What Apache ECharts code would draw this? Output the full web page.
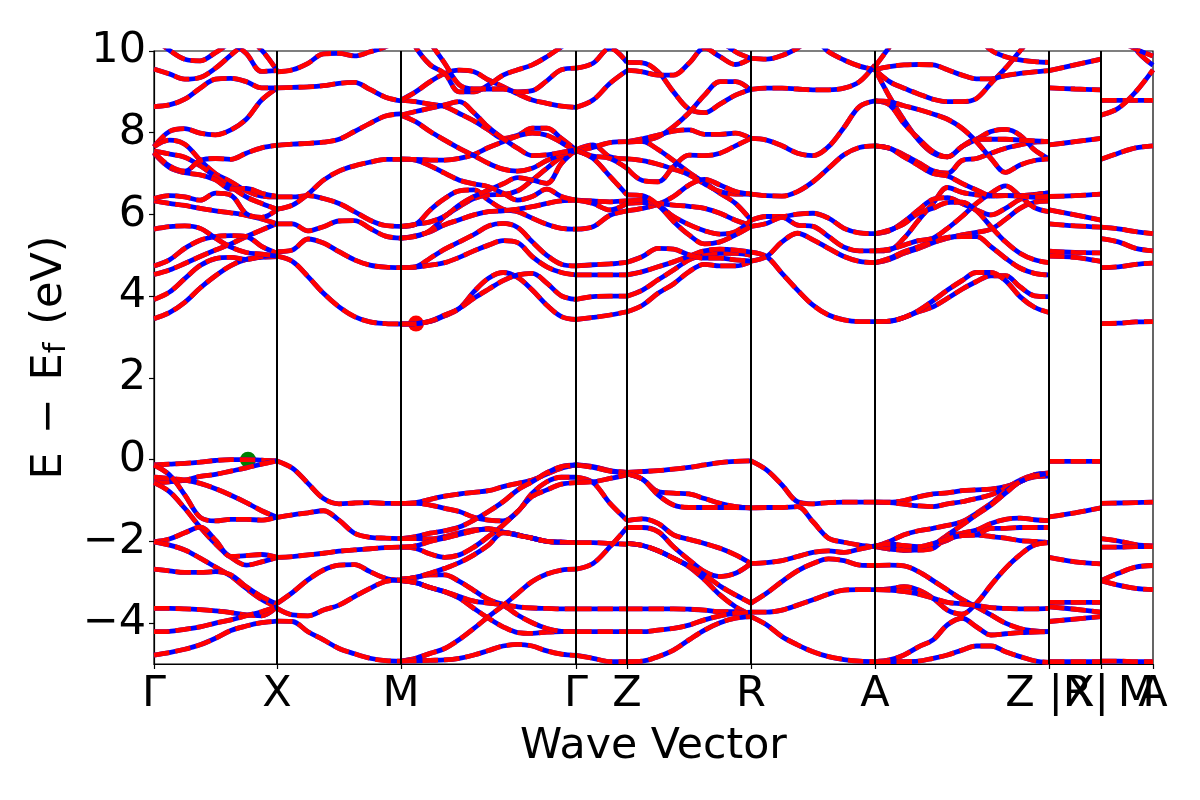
<!DOCTYPE html>
<html><head><meta charset="utf-8">
<script src="https://cdn.jsdelivr.net/npm/echarts@6/dist/echarts.min.js"></script>
<style>html,body{margin:0;padding:0;background:#fff}#c{width:1200px;height:800px}</style>
</head><body><div id="c"></div>
<script>
const tickPositions=[0,1.23,2.47,4.22,4.73,5.97,7.21,8.95,9.47,9.99];
const tickLabels=["Γ","X","M","Γ","Z","R","A","Z\u00a0|R","\u00a0\u200aX|\u2009M","A"];
const energyTicks=[-4,-2,0,2,4,6,8,10];
const vbmPoint=[0.94,0.0];
const cbmPoint=[2.62,3.33];

const bandsGammaX=[
[3.45,3.6,3.85,4.2,4.5,4.75,4.9,4.95,4.97],
[3.92,4.1,4.43,4.75,4.92,4.95,4.9,4.97,5.0],
[4.53,4.64,4.8,4.97,5.13,5.28,5.46,5.62,5.78],
[4.74,4.89,5.17,5.37,5.46,5.48,5.46,5.22,5.05],
[5.64,5.7,5.72,5.66,5.42,5.2,5.07,5.03,4.98],
[6.33,6.27,6.22,6.15,6.09,6.04,5.98,5.89,5.77],
[6.39,6.46,6.43,6.35,6.52,6.47,6.02,5.93,6.12],
[7.66,8.03,8.1,7.99,7.95,8.07,8.33,8.8,9.09],
[7.66,7.82,7.72,7.33,7.0,6.8,6.58,6.45,6.43],
[7.55,7.48,7.4,7.19,6.93,6.68,6.43,6.27,6.13],
[7.5,7.15,7.02,6.97,6.85,6.62,6.64,6.52,6.44],
[7.52,7.19,7.06,7.32,7.37,7.35,7.5,7.63,7.69],
[8.64,8.68,8.82,9.09,9.31,9.33,9.25,9.1,9.1],
[9.56,9.44,9.31,9.35,9.58,9.9,10.2,10.4,10.5],
[10.3,10.02,9.8,9.76,9.96,10.2,10.3,10.02,9.52],
[11,11,11,11,10.3,10.2,9.94,9.5,9.52],
[-0.13,-0.11,-0.09,-0.06,-0.02,0,0,-0.01,-0.03],
[-0.56,-0.54,-0.5,-0.41,-0.36,-0.28,-0.2,-0.11,-0.03],
[-0.43,-0.46,-0.5,-0.58,-0.71,-0.87,-1.05,-1.25,-1.41],
[-0.13,-0.37,-0.86,-1.41,-1.5,-1.46,-1.46,-1.48,-1.41],
[-0.56,-0.78,-1.19,-1.65,-2.06,-2.39,-2.58,-2.5,-2.39],
[-2.01,-1.94,-1.79,-1.65,-1.97,-2.37,-2.35,-2.32,-2.39],
[-2.01,-2.09,-2.21,-2.41,-2.63,-2.85,-3.15,-3.42,-3.6],
[-2.68,-2.72,-2.76,-2.76,-2.74,-2.82,-3.11,-3.35,-3.53],
[-3.64,-3.64,-3.65,-3.67,-3.7,-3.74,-3.8,-3.82,-3.6],
[-4.21,-4.2,-4.15,-4.09,-4.0,-3.92,-3.82,-3.72,-3.6],
[-4.78,-4.72,-4.64,-4.53,-4.37,-4.18,-4.07,-3.99,-3.95]
];
const bandsXM=[
[4.98,4.85,4.48,4.07,3.74,3.5,3.37,3.33,3.32],
[5.09,5.13,5.4,5.3,5.09,4.89,4.76,4.71,4.7],
[5.77,5.77,5.6,5.7,5.84,5.85,5.66,5.47,5.42],
[6.43,6.43,6.46,6.39,6.27,6.07,5.86,5.73,5.71],
[6.13,6.23,6.5,6.84,7.06,7.19,7.28,7.35,7.35],
[7.69,7.72,7.74,7.77,7.84,8.03,8.23,8.41,8.46],
[9.1,9.11,9.12,9.15,9.21,9.23,9.06,8.87,8.78],
[9.49,9.54,9.7,9.93,9.94,9.88,9.98,10.1,10.3],
[-0.03,-0.21,-0.58,-0.95,-1.08,-1.06,-1.05,-1.07,-1.07],
[-1.41,-1.35,-1.3,-1.25,-1.48,-1.8,-1.9,-1.92,-1.93],
[-2.39,-2.37,-2.33,-2.29,-2.24,-2.21,-2.18,-2.15,-2.14],
[-3.52,-3.25,-2.94,-2.7,-2.58,-2.57,-2.74,-2.9,-2.96],
[-3.64,-3.8,-3.82,-3.68,-3.56,-3.35,-3.15,-2.98,-2.94],
[-3.95,-3.96,-4.21,-4.41,-4.62,-4.75,-4.86,-4.92,-4.93]
];
const bandsMGamma=[
[3.32,3.33,3.38,3.52,3.7,4.11,4.44,4.58,4.46,4.15,3.78,3.5,3.43],
[3.32,3.33,3.39,3.54,3.7,3.95,4.17,4.38,4.52,4.56,4.32,4.01,3.92],
[4.7,4.72,4.93,5.15,5.33,5.51,5.72,5.78,5.68,5.33,5.0,4.78,4.74],
[4.7,4.71,4.76,4.82,4.95,5.11,5.25,5.36,5.31,4.97,4.72,4.58,4.52],
[5.71,5.76,6.11,6.39,6.58,6.6,6.35,6.13,6.07,5.91,5.76,5.66,5.64],
[5.42,5.48,5.58,5.75,5.87,5.99,6.07,6.09,6.13,6.19,6.27,6.33,6.35],
[5.42,5.46,5.61,5.95,6.19,6.39,6.48,6.49,6.58,6.84,7.13,7.4,7.54],
[5.71,5.76,5.82,5.96,6.23,6.44,6.6,6.75,6.9,6.84,6.76,7.25,7.58],
[7.36,7.33,7.19,7.01,6.84,6.75,6.68,6.52,6.35,6.44,6.62,6.44,6.35],
[8.8,8.76,8.7,8.64,8.47,8.29,8.07,7.86,7.94,8.11,8.11,7.86,7.58],
[7.35,7.35,7.33,7.33,7.37,7.47,7.64,7.78,7.92,7.99,7.94,7.76,7.54],
[8.43,8.27,8.03,7.82,7.62,7.44,7.25,7.11,7.06,7.13,7.32,7.46,7.56],
[8.43,8.52,8.6,8.68,8.76,8.49,8.13,7.86,7.62,7.44,7.46,7.52,7.58],
[8.8,9.0,9.25,9.45,9.53,9.49,9.29,9.13,8.95,8.8,8.72,8.65,8.62],
[10.8,10.1,9.66,9.45,9.0,9.0,9.17,9.41,9.54,9.66,9.86,10.1,10.35],
[11,10.7,10.2,9.7,9.17,9.07,9.07,9.07,9.0,9.03,9.27,9.54,9.58],
[-1.07,-1.05,-0.97,-0.89,-0.84,-0.8,-0.76,-0.66,-0.58,-0.5,-0.35,-0.21,-0.13],
[-1.07,-1.07,-1.11,-1.19,-1.27,-1.41,-1.48,-1.5,-1.27,-0.82,-0.54,-0.43,-0.43],
[-1.93,-1.88,-1.8,-1.74,-1.65,-1.48,-1.27,-1.03,-0.74,-0.54,-0.32,-0.17,-0.13],
[-1.93,-1.93,-1.94,-1.88,-1.79,-1.72,-1.7,-1.77,-1.84,-1.92,-2.0,-2.02,-2.03],
[-2.14,-2.17,-2.31,-2.39,-2.33,-2.14,-1.88,-1.6,-1.27,-0.9,-0.74,-0.6,-0.56],
[-2.14,-2.11,-2.0,-1.92,-1.83,-1.74,-1.69,-1.77,-1.84,-1.92,-2.0,-2.02,-2.03],
[-2.94,-2.88,-2.82,-2.82,-2.98,-3.2,-3.42,-3.54,-3.6,-3.63,-3.64,-3.65,-3.65],
[-2.92,-2.88,-2.78,-2.66,-2.52,-2.33,-2.09,-1.79,-1.85,-1.92,-2.0,-2.02,-2.03],
[-2.96,-3.01,-3.13,-3.23,-3.39,-3.64,-3.88,-4.09,-4.23,-4.25,-4.22,-4.21,-4.21],
[-2.96,-3.01,-3.13,-3.23,-3.35,-3.46,-3.51,-3.57,-3.8,-3.99,-4.13,-4.2,-4.21],
[-4.93,-4.86,-4.74,-4.62,-4.4,-4.13,-3.84,-3.57,-3.27,-2.98,-2.8,-2.7,-2.68],
[-4.93,-4.92,-4.91,-4.9,-4.86,-4.78,-4.67,-4.56,-4.52,-4.56,-4.68,-4.76,-4.79]
];
const bandsGammaZ=[
[3.43,3.48,3.54,3.62],
[3.92,3.99,4.0,4.0],
[4.52,4.52,4.52,4.52],
[4.74,4.77,4.79,4.83],
[5.64,5.7,5.98,6.09],
[6.35,6.33,6.31,6.33],
[6.35,6.27,6.11,6.27],
[7.58,7.7,7.41,7.36],
[7.54,7.64,7.76,7.78],
[7.56,7.43,7.37,7.13],
[7.58,7.37,6.93,6.48],
[8.62,8.8,9.21,9.52],
[9.58,9.7,10.07,9.72],
[-0.13,-0.17,-0.27,-0.31],
[-0.13,-0.19,-0.28,-0.33],
[-0.43,-0.56,-1.07,-1.48],
[-0.56,-0.54,-0.46,-0.37],
[-2.03,-2.03,-2.05,-2.07],
[-2.68,-2.54,-2.13,-1.66],
[-3.65,-3.65,-3.65,-3.65],
[-4.21,-4.21,-4.21,-4.21],
[-4.79,-4.86,-4.94,-4.94]
];
const bandsZR=[
[3.62,3.78,4.07,4.3,4.6,4.78,4.74,4.74,4.84],
[4.0,4.15,4.4,4.64,4.89,5.01,5.05,5.05,5.0],
[4.52,4.6,4.72,4.84,4.98,5.11,5.15,5.13,5.08],
[4.83,4.97,5.17,5.15,5.01,4.93,4.93,4.89,4.86],
[9.72,9.71,9.49,9.0,8.58,8.49,8.7,8.92,9.06],
[9.53,9.49,9.41,9.41,9.7,10.07,9.86,9.67,9.82],
[11,11,11,11,11,11,10.3,9.98,9.82],
[7.77,7.8,7.9,8.15,8.49,8.92,9.25,9.25,9.04],
[7.78,7.85,7.94,8.04,8.07,7.96,7.96,7.99,7.86],
[7.78,7.78,7.59,7.32,7.03,6.78,6.52,6.27,5.86],
[7.36,7.32,7.23,7.11,6.97,6.75,6.56,6.5,6.5],
[7.13,6.83,6.8,7.17,7.45,7.44,7.5,7.68,7.86],
[6.09,6.15,6.25,6.44,6.72,6.86,6.72,6.56,6.5],
[6.27,6.29,6.27,6.23,6.2,6.15,6.03,5.86,5.73],
[6.33,6.35,6.23,5.95,5.75,5.6,5.52,5.58,5.86],
[6.48,6.46,6.23,5.83,5.5,5.28,5.33,5.5,5.71],
[-0.31,-0.29,-0.27,-0.23,-0.19,-0.13,-0.07,-0.04,-0.03],
[-0.35,-0.48,-0.78,-0.82,-0.84,-0.95,-1.07,-1.15,-1.18],
[-0.35,-0.48,-0.86,-1.11,-1.17,-1.17,-1.17,-1.17,-1.18],
[-1.49,-1.45,-1.56,-1.84,-1.95,-2.05,-2.17,-2.33,-2.54],
[-1.66,-1.66,-1.76,-2.13,-2.45,-2.74,-2.86,-2.78,-2.54],
[-2.05,-2.1,-2.23,-2.41,-2.62,-2.94,-3.31,-3.6,-3.8],
[-2.05,-2.1,-2.23,-2.41,-2.6,-2.82,-3.09,-3.31,-3.51],
[-3.65,-3.65,-3.65,-3.65,-3.66,-3.68,-3.72,-3.72,-3.76],
[-4.21,-4.21,-4.17,-4.13,-4.05,-3.92,-3.82,-3.76,-3.73],
[-4.94,-4.93,-4.82,-4.66,-4.41,-4.17,-3.99,-3.88,-3.84]
];
const bandsRA=[
[9.82,9.8,9.89,10.07,10.3,9.98,9.78,9.63,9.54],
[9.06,9.09,9.09,9.07,9.05,9.05,9.09,9.25,9.66],
[7.86,7.82,7.68,7.5,7.44,7.66,8.13,8.64,8.78],
[6.5,6.46,6.45,6.56,6.8,7.13,7.46,7.64,7.68],
[5.86,5.95,5.95,6.01,6.03,5.91,5.66,5.55,5.53],
[5.71,5.78,5.93,5.74,5.71,5.46,5.2,5.11,5.11],
[5.08,4.97,4.56,4.15,3.78,3.54,3.42,3.38,3.38],
[4.86,4.97,5.33,5.54,5.38,5.17,4.97,4.85,4.82],
[-0.03,-0.25,-0.62,-1.03,-1.08,-1.05,-1.04,-1.04,-1.04],
[-1.18,-1.17,-1.17,-1.15,-1.52,-1.92,-2.02,-2.09,-2.13],
[-2.54,-2.52,-2.47,-2.37,-2.27,-2.23,-2.27,-2.19,-2.11],
[-3.51,-3.27,-2.98,-2.72,-2.54,-2.43,-2.47,-2.58,-2.59],
[-3.73,-3.73,-3.68,-3.56,-3.43,-3.29,-3.19,-3.18,-3.18],
[-3.84,-4.04,-4.33,-4.53,-4.7,-4.82,-4.89,-4.93,-4.94]
];
const bandsAZ=[
[3.38,3.39,3.48,3.62,3.74,3.95,4.17,4.36,4.5,4.5,4.23,4.01,3.99],
[3.38,3.39,3.48,3.65,3.89,4.15,4.38,4.58,4.58,4.38,3.99,3.73,3.6],
[4.82,4.9,5.05,5.17,5.31,5.42,5.5,5.56,5.64,5.88,6.15,6.3,6.33],
[4.82,4.93,5.09,5.21,5.35,5.44,5.46,5.46,5.21,4.93,4.69,4.56,4.52],
[5.11,5.13,5.42,5.86,6.27,6.66,6.54,6.48,6.45,6.46,6.46,6.49,6.53],
[5.11,5.15,5.25,5.36,5.42,5.66,5.95,6.27,6.52,6.7,6.45,6.17,6.07],
[5.53,5.6,5.82,6.11,6.37,6.41,6.27,6.11,5.99,6.15,6.37,6.48,6.52],
[5.53,5.62,5.77,6.03,6.15,6.29,6.3,6.09,5.7,5.33,5.05,4.89,4.82],
[7.68,7.62,7.46,7.27,7.07,7.01,7.32,7.37,7.5,7.62,7.7,7.77,7.78],
[7.68,7.62,7.41,7.2,7.0,6.94,6.76,6.6,6.46,6.46,6.45,6.42,6.44],
[9.55,8.88,8.31,7.82,7.5,7.41,7.66,7.84,8.03,8.08,7.94,7.58,7.36],
[8.78,8.68,8.22,7.86,7.54,7.41,7.66,7.84,7.84,7.84,7.82,7.8,7.78],
[8.78,8.76,8.66,8.57,8.46,8.33,8.11,7.78,7.37,7.03,7.21,7.32,7.36],
[9.54,9.25,9.09,8.95,8.82,8.76,8.76,8.84,9.21,9.58,10.0,10.4,10.6],
[9.55,9.62,9.66,9.67,9.66,9.54,9.41,9.32,9.32,9.4,9.45,9.49,9.52],
[9.62,10.1,10.6,11,11,11,11,11,11,11,11,11,11],
[11,11,11,11,11,11,11,10.4,10.02,9.86,9.78,9.74,9.72],
[-1.04,-1.04,-1.0,-0.91,-0.84,-0.81,-0.76,-0.74,-0.72,-0.66,-0.54,-0.37,-0.33],
[-1.04,-1.05,-1.09,-1.13,-1.15,-1.08,-1.03,-0.95,-0.86,-0.7,-0.5,-0.37,-0.33],
[-2.13,-2.0,-1.84,-1.74,-1.68,-1.61,-1.52,-1.31,-1.07,-0.78,-0.54,-0.42,-0.4],
[-2.13,-2.19,-2.21,-2.19,-2.09,-1.84,-1.6,-1.35,-1.11,-0.82,-0.54,-0.4,-0.33],
[-2.11,-2.17,-2.21,-2.17,-2.09,-1.97,-1.82,-1.84,-1.88,-1.92,-1.98,-2.0,-2.03],
[-2.13,-2.13,-2.21,-2.21,-2.17,-1.88,-1.8,-1.72,-1.56,-1.46,-1.43,-1.47,-1.49],
[-2.11,-2.06,-2.1,-2.13,-2.05,-1.94,-1.86,-1.84,-1.68,-1.68,-1.66,-1.66,-1.66],
[-2.59,-2.58,-2.6,-2.74,-2.96,-3.19,-3.42,-3.6,-3.8,-4.0,-4.13,-4.19,-4.21],
[-3.18,-3.16,-3.11,-3.19,-3.39,-3.68,-3.78,-3.51,-3.07,-2.66,-2.33,-2.09,-2.03],
[-3.18,-3.19,-3.23,-3.29,-3.39,-3.49,-3.53,-3.57,-3.62,-3.64,-3.65,-3.65,-3.64],
[-4.94,-4.9,-4.78,-4.58,-4.41,-4.04,-3.88,-4.09,-4.29,-4.26,-4.23,-4.22,-4.21],
[-4.94,-4.94,-4.94,-4.93,-4.86,-4.78,-4.66,-4.56,-4.56,-4.7,-4.82,-4.92,-4.96]
];
const bandsRX=[
[9.52,9.66,9.8],
[9.1,9.07,9.05],
[7.7,7.78,7.86],
[6.44,6.46,6.5],
[6.11,5.99,5.86],
[5.77,5.72,5.69],
[5.1,5.07,5.06],
[4.98,4.95,4.85],
[-0.04,-0.04,-0.04],
[-1.4,-1.3,-1.18],
[-2.39,-2.5,-2.55],
[-3.49,-3.49,-3.49],
[-3.6,-3.66,-3.73],
[-3.96,-3.9,-3.84],
[-4.94,-4.94,-4.94]
];
const bandsMA=[
[8.79,8.79,8.79,8.79],
[8.43,8.6,9.0,9.54],
[11,11,10.05,9.65],
[11,10.3,10.05,9.88],
[7.35,7.5,7.63,7.68],
[5.69,5.65,5.58,5.53],
[5.41,5.33,5.17,5.11],
[4.7,4.72,4.78,4.81],
[3.33,3.34,3.37,3.38],
[-1.07,-1.06,-1.05,-1.04],
[-1.93,-1.99,-2.08,-2.11],
[-2.14,-2.14,-2.13,-2.13],
[-2.96,-2.78,-2.63,-2.59],
[-2.96,-3.07,-3.15,-3.18],
[-4.93,-4.93,-4.94,-4.94]
];
const segmentBands=[bandsGammaX,bandsXM,bandsMGamma,bandsGammaZ,bandsZR,bandsRA,bandsAZ,bandsRX,bandsMA];

const font='"DejaVu Sans"';
const series=[];
series.push({type:'scatter',data:[vbmPoint],symbolSize:16,itemStyle:{color:'#008000',opacity:1},silent:true,
  markLine:{silent:true,symbol:'none',animation:false,label:{show:false},lineStyle:{color:'#000',width:2,type:'solid'},
    data:tickPositions.slice(1,-1).map(k=>({xAxis:k}))}});
series.push({type:'scatter',data:[cbmPoint],symbolSize:16,itemStyle:{color:'#ff0000',opacity:1},silent:true});
segmentBands.forEach((bands,s)=>{
  const k0=tickPositions[s],k1=tickPositions[s+1];
  bands.forEach(vals=>{
    const data=vals.map((e,i)=>[k0+(k1-k0)*i/(vals.length-1),e]);
    const base={type:'line',data,showSymbol:false,smooth:0.35,silent:true,animation:false,clip:true};
    series.push({...base,lineStyle:{color:'#0000ff',width:4.8,cap:'butt'}});
    series.push({...base,lineStyle:{color:'#ff0000',width:4.8,type:[15.5,6],cap:'butt'}});
  });
});
const labelFor=v=>{const i=tickPositions.findIndex(t=>Math.abs(t-v)<1e-6);return i<0?'':tickLabels[i];};
const xLabelBase={show:true,margin:9,hideOverlap:false,showMinLabel:true,showMaxLabel:true,fontFamily:font,fontSize:43,color:'#000',formatter:labelFor};
const chart=echarts.init(document.getElementById('c'),null,{renderer:'canvas'});
chart.setOption({
  animation:false,backgroundColor:'#fff',
  grid:{left:154,top:51,width:999,height:613,show:true,borderColor:'#000',borderWidth:1.2,backgroundColor:'transparent'},
  xAxis:[{type:'value',min:0,max:9.99,position:'bottom',name:'Wave Vector',nameLocation:'middle',nameGap:61,
    nameTextStyle:{fontFamily:font,fontSize:42.7,color:'#000'},
    axisLine:{show:true,onZero:false,lineStyle:{color:'#000',width:1.2}},
    axisTick:{show:true,customValues:tickPositions,length:5,lineStyle:{color:'#000',width:1.2}},
    splitLine:{show:false},
    axisLabel:{...xLabelBase,customValues:tickPositions.filter((_,i)=>i!==8)}},
   {type:'value',min:0,max:9.99,position:'bottom',
    axisLine:{show:false,onZero:false},axisTick:{show:false},splitLine:{show:false},
    axisLabel:{...xLabelBase,customValues:[tickPositions[8]]}}],
  yAxis:{type:'value',min:-5,max:10,name:'E\u00a0\u200a\u2212\u00a0\u200aE{s|f}\u00a0\u200a(eV)',nameLocation:'middle',nameGap:64,nameRotate:90,
    nameTextStyle:{fontFamily:font,fontSize:43,color:'#000',rich:{s:{fontFamily:font,fontSize:30,color:'#000',padding:[14,0,0,0]}}},
    axisLine:{show:true,onZero:false,lineStyle:{color:'#000',width:1.2}},
    axisTick:{show:true,customValues:energyTicks,length:5,lineStyle:{color:'#000',width:1.2}},
    splitLine:{show:false},
    axisLabel:{show:true,customValues:energyTicks,margin:8,fontFamily:font,fontSize:43,color:'#000',
      formatter:v=>String(v).replace('-','\u2212')}},
  series
});
</script></body></html>
